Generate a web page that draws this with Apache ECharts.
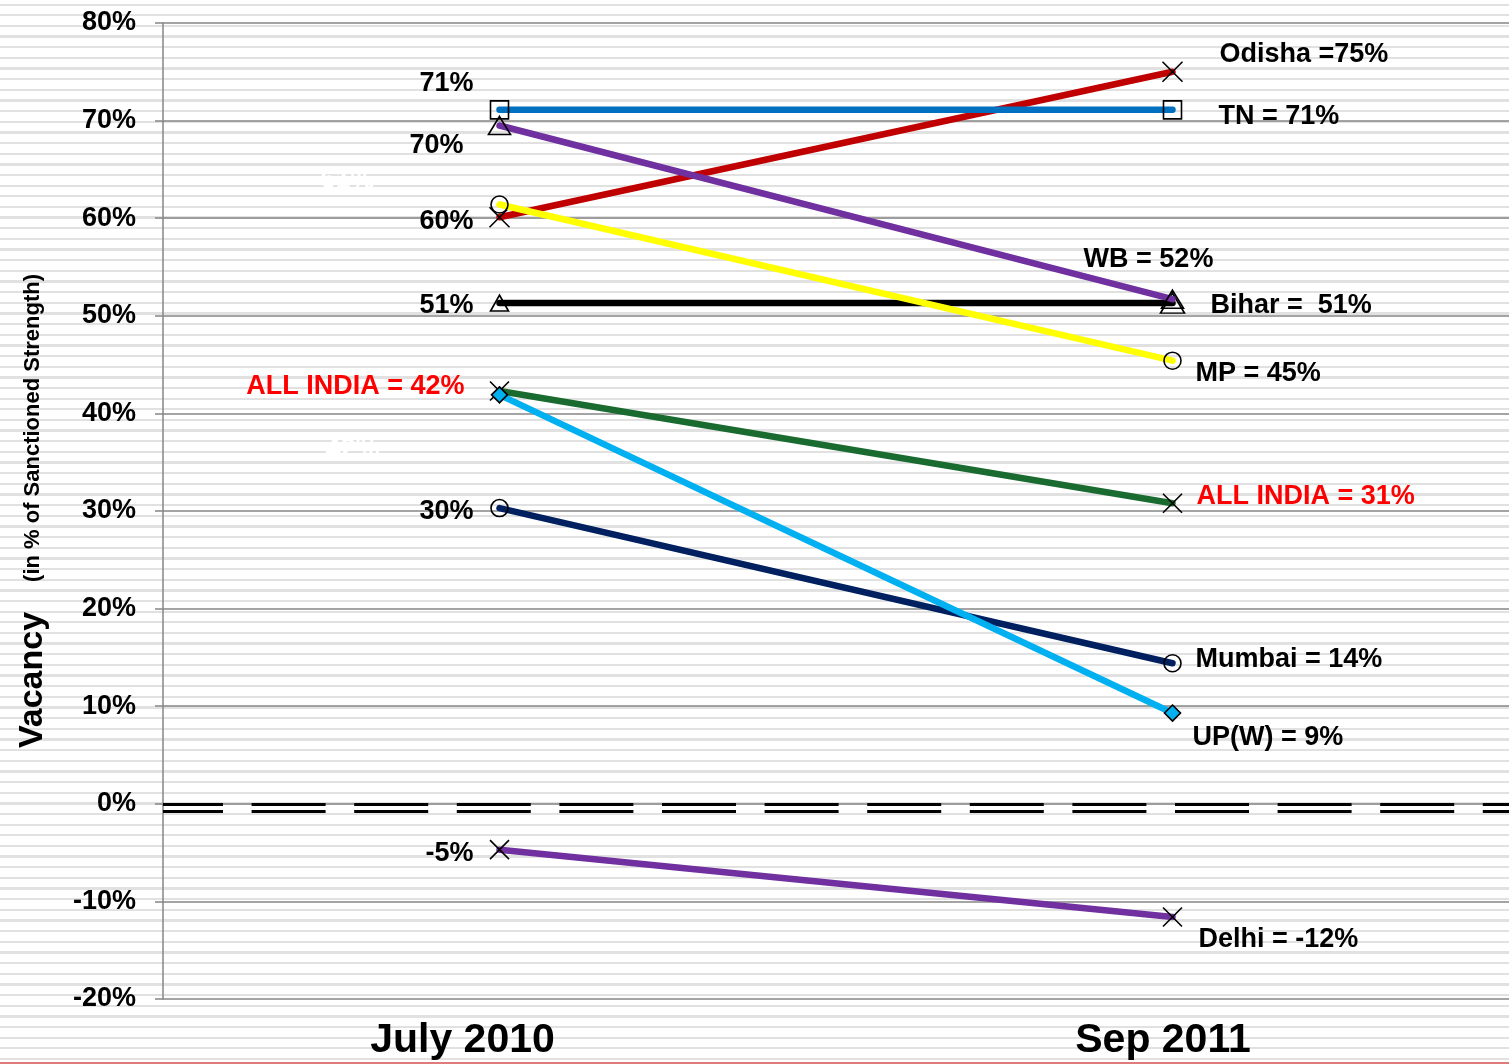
<!DOCTYPE html>
<html>
<head>
<meta charset="utf-8">
<script src="https://cdn.jsdelivr.net/npm/echarts@6/dist/echarts.min.js"></script>
<style>
  html, body { margin: 0; padding: 0; }
  body {
    width: 1509px; height: 1064px; overflow: hidden;
    background-color: #ffffff;
    background-image: repeating-linear-gradient(to bottom,
      transparent 0px, transparent 3.5px, #e1e1e1 3.5px, #e1e1e1 5.8px, transparent 5.8px, transparent 10.65px);
  }
  #chart { width: 1509px; height: 1064px; }
</style>
</head>
<body>
<div id="chart"></div>
<script>
// ---- data ----
const categories = ['July 2010', 'Sep 2011'];
const seriesNames = ['Odisha', 'TN', 'Bihar', 'WB', 'MP', 'Mumbai', 'ALL INDIA', 'UP(W)', 'Delhi'];
const july2010 = [60.1, 71.1, 51.3, 69.5, 61.4, 30.3, 42.3, 41.9, -4.7];
const sep2011 = [75.0, 71.1, 51.3, 51.7, 45.4, 14.4, 30.8, 9.3, -11.6];
const startLabels = ['60%', '71%', '51%', '70%', '61%', '30%', 'ALL INDIA = 42%', '42%', '-5%'];
const endLabels = ['Odisha =75%', 'TN = 71%', 'Bihar =  51%', 'WB = 52%', 'MP = 45%', 'Mumbai = 14%', 'ALL INDIA = 31%', 'UP(W) = 9%', 'Delhi = -12%'];
const yTickMin = -20, yTickMax = 80, yTickStep = 10;

// ---- styles ----
const FONT = "'Liberation Sans', Arial, sans-serif";
const LBL = 27;
const X_PATH = 'path://M0,0 L10,10 M10,0 L0,10';
const styles = [
  { color: '#c00000', symbol: X_PATH, size: 20, fill: 'none',
    s: { align: 'right', off: [-26, 4] }, e: { align: 'left', off: [47, -17] } },
  { color: '#0070c0', symbol: 'rect', size: 18, fill: 'none',
    s: { align: 'right', off: [-26, -26] }, e: { align: 'left', off: [46, 7] } },
  { color: '#000000', symbol: 'triangle', size: [18, 16], fill: 'none',
    s: { align: 'right', off: [-26, 2] }, e: { align: 'left', off: [38, 2] }, endSize: [24, 20] },
  { color: '#7030a0', symbol: 'triangle', size: [22, 18], fill: 'none',
    s: { align: 'right', off: [-36, 20] }, e: { align: 'center', off: [-24, -40] } },
  { color: '#ffff00', symbol: 'circle', size: 17, fill: 'none',
    s: { align: 'center', off: [-152, -24], color: '#ffffff' }, e: { align: 'left', off: [23, 13] } },
  { color: '#002060', symbol: 'circle', size: 17, fill: 'none',
    s: { align: 'right', off: [-26, 3] }, e: { align: 'left', off: [23, -4] } },
  { color: '#1a6b2f', symbol: X_PATH, size: 19, fill: 'none',
    s: { align: 'right', off: [-35, -4], color: '#ff0000' }, e: { align: 'left', off: [24, -7], color: '#ff0000' } },
  { color: '#00b0f0', symbol: 'diamond', size: 16, fill: '#00b0f0',
    s: { align: 'center', off: [-147, 55], color: '#ffffff' }, e: { align: 'left', off: [20, 25] } },
  { color: '#7030a0', symbol: X_PATH, size: 19, fill: 'none',
    s: { align: 'right', off: [-26, 4] }, e: { align: 'left', off: [26, 23] } }
];

function labelCfg(text, st) {
  return {
    show: true,
    position: 'inside',
    formatter: text,
    align: st.align,
    verticalAlign: 'middle',
    offset: st.off,
    color: st.color || '#000000',
    fontFamily: FONT,
    fontWeight: 'bold',
    fontSize: LBL,
    textBorderWidth: 0
  };
}

const series = seriesNames.map(function (name, i) {
  const st = styles[i];
  return {
    name: name,
    type: 'line',
    z: 3 + i,
    symbol: st.symbol,
    symbolSize: st.size,
    showSymbol: true,
    lineStyle: { color: st.color, width: 6.5, cap: 'round' },
    itemStyle: { color: st.fill, borderColor: '#000000', borderWidth: 1.6 },
    emphasis: { disabled: true },
    animation: false,
    data: [
      { value: july2010[i], label: labelCfg(startLabels[i], st.s) },
      { value: sep2011[i], label: labelCfg(endLabels[i], st.e), symbolSize: st.endSize || st.size }
    ]
  };
});

// zero reference line (double dashed)
series.push({
  type: 'line',
  data: [],
  z: 2,
  animation: false,
  markLine: {
    silent: true,
    symbol: 'none',
    animation: false,
    label: { show: false },
    lineStyle: {
      color: '#000000', width: 3, type: [74, 28.6], dashOffset: 14,
      shadowColor: '#000000', shadowBlur: 0, shadowOffsetY: 7
    },
    data: [{ yAxis: 0 }]
  }
});

const chart = echarts.init(document.getElementById('chart'), null, { renderer: 'canvas' });
chart.setOption({
  animation: false,
  backgroundColor: 'transparent',
  grid: { left: 163, right: 0, top: 23, bottom: 65, containLabel: false },
  xAxis: {
    type: 'category',
    data: categories,
    boundaryGap: true,
    axisLine: { show: false },
    axisTick: { show: false },
    axisLabel: {
      margin: 21,
      formatter: function (v, idx) { return idx === 0 ? '{j|' + v + '}' : '{s|' + v + '}'; },
      rich: {
        j: { fontFamily: FONT, fontWeight: 'bold', fontSize: 41, color: '#000', padding: [0, 74, 0, 0] },
        s: { fontFamily: FONT, fontWeight: 'bold', fontSize: 41, color: '#000', padding: [0, 19, 0, 0] }
      }
    }
  },
  yAxis: {
    type: 'value',
    min: yTickMin, max: yTickMax, interval: yTickStep,
    name: '{a|Vacancy}{g|}{b|(in % of Sanctioned Strength)}',
    nameLocation: 'middle',
    nameRotate: 90,
    nameGap: 113,
    nameTextStyle: {
      rich: {
        a: { fontFamily: FONT, fontWeight: 'bold', fontSize: 34, color: '#000' },
        g: { width: 30 },
        b: { fontFamily: FONT, fontWeight: 'bold', fontSize: 22, color: '#000' }
      }
    },
    axisLine: { show: true, lineStyle: { color: '#868686', width: 1.5 } },
    axisTick: { show: true, length: 8, lineStyle: { color: '#868686', width: 1.5 } },
    splitLine: { show: true, lineStyle: { color: '#868686', width: 1.5 } },
    axisLabel: {
      formatter: '{value}%',
      margin: 27,
      fontFamily: FONT, fontWeight: 'bold', fontSize: LBL, color: '#000'
    }
  },
  graphic: [
    { type: 'rect', left: 0, bottom: 0, shape: { width: 1509, height: 2 }, style: { fill: '#e07b7b' }, silent: true }
  ],
  series: series
});
</script>
</body>
</html>
